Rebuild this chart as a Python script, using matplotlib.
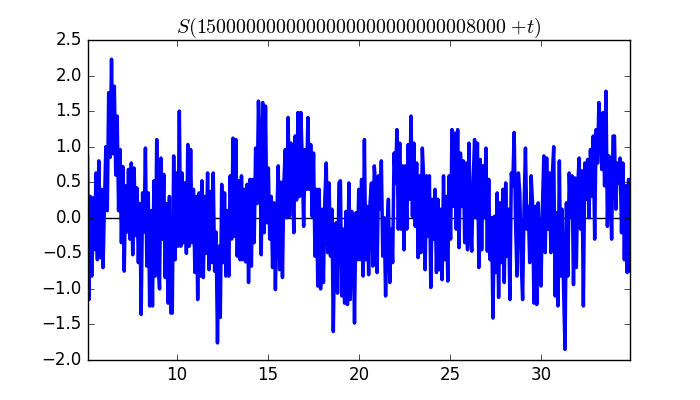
import numpy as np
import matplotlib
matplotlib.use("Agg")
import matplotlib.pyplot as plt

plt.style.use("classic")

t_start = 5.08
t_end = 34.87

seg1 = [0.87, -1.15, 0.30, -0.82, 0.28, -0.45, 0.63, -0.59, 0.80, -0.56, 0.40, -0.70, 0.20, 1.00, 0.10,
        1.76, 0.85, 2.23, 0.90, 1.85, 0.60, 1.43, 0.10, 0.96, -0.35, 0.72, -0.75, 0.45, -0.20, 0.68,
        -0.30, 0.77, -0.52, 0.70, -0.25, 0.42, -0.63, 0.20, -1.36, 0.35, -0.20, 0.98, -0.68, 0.35, -1.24,
        0.10, -1.24, 0.52, -0.82, 1.10, -0.63, -1.00, 0.84, -0.30, 0.61, -0.84, 0.20, -1.20, 0.30, -1.34]
seg2 = [-1.34, 0.87, -0.59, 0.63, -0.40, 1.50, -0.40, 0.63, -0.35, 0.49, -0.50, 1.03, -0.40, 0.96, -0.35,
        0.40, -0.77, 0.30, -1.15, 0.35, -0.82, 0.52, -0.84, 0.30, -0.50, 0.63, -0.73, 0.37, -0.63, 0.63,
        -0.75, -0.20, -1.76, -0.40, -1.40, 0.47, -0.63, 0.35, -0.82, 0.10, -0.82, 0.59, -0.30, 1.12, -0.26,
        1.10, -0.54, 0.52, -0.59, 0.59, -0.59, 0.40, -0.62, 0.47, -0.91, 0.54, -0.68, 0.54, -0.35, 0.98,
        0.20, 1.64]
seg3 = [0.98, -0.52, 1.62, -0.21, 1.57, -0.07, 0.70, -0.30, 0.30, -0.70, 0.21, -1.01, 0.0, 0.73, -0.73,
        0.50, -0.84, 0.49, 0.96, 0.0, 1.41, 0.02, 1.05, 0.87, -0.21, 1.15, 0.25, 1.48, 0.30, 1.48,
        0.82, -0.12, 0.96, 0.40, 1.41, 0.40, 1.03, 0.02, 0.91, -0.54, 0.40, -0.96, 0.40, -1.00, 0.12,
        -0.91, 0.26, 0.77, -0.49, 0.49, -0.54, 0.12, -1.60, -0.16, -0.07, -1.06, 0.49, 0.52, -1.10, -0.16,
        -1.20, 0.09, -1.22, 0.49, -1.15, 0.09, -0.16]
seg4 = [-1.48, 0.07, -0.59, 0.40, -0.59, 0.54, -0.82, 1.10, -0.59, 0.16, -0.80, 0.21, 0.49, -0.68, 0.73,
        0.45, -0.77, 0.59, 0.12, 0.80, -0.54, 0.0, -1.10, -0.16, 0.26, -0.91, -0.16, -0.63, 0.91, 0.49,
        1.24, -0.16, 1.05, -0.16, 0.73, -0.45, 0.73, -0.16, 1.03, 0.26, 1.43, 0.02, 1.05, -0.12, 0.77,
        -0.56, 0.59, -0.49, 0.98, 0.54, -0.73, 0.59, -0.26, 0.59, -0.98, 0.26, -0.30, 0.40, -0.77, 0.26,
        -0.73, 0.12, -0.87, 0.59, -0.59, 0.30]
seg5 = [-0.89, 0.59, -0.30, 1.24, 0.16, 1.19, -0.16, 1.24, -0.42, 0.91, 0.16, 0.80, -0.35, 0.77, -0.45,
        1.05, -0.16, -0.47, 0.54, 1.10, 0.0, 1.05, -0.70, 0.82, -0.45, 0.73, 0.0, 0.98, -0.47, 0.54,
        -0.59, 0.0, -1.41, 0.02, -0.77, 0.35, -1.12, 0.21, -0.63, 0.40, -0.91, 0.49, -0.54, 0.12, -1.15,
        0.63, 0.45, 1.20, -0.07, -0.82, 0.63, 0.35, -0.63, -1.15, 0.12, 0.98, -0.16, 0.16, -0.63, 0.59,
        0.21, -1.20, 0.16]
seg6 = [-1.22, 0.21, -0.35, -0.96, 0.12, 0.87, -0.49, 0.84, -0.16, 0.63, -0.49, 0.59, 1.00, -1.10, 0.07,
        -1.24, 0.80, -0.82, 0.12, -1.01, -1.85, 0.21, -0.82, 0.63, 0.02, 0.59, -0.94, 0.56, -0.70, 0.45,
        0.84, -0.16, 0.66, -1.24, 0.77, 0.26, 0.82, 0.0, 0.96, 0.30, 1.15, -0.30, 1.24, 0.77, 1.62,
        1.24, 0.68, 1.48, 0.45, 1.78, -0.12, 0.87, 0.54, -0.30, 1.15, 1.15, 0.12, 0.77, 0.49, 0.84,
        -0.21, 0.77, -0.59, 0.45, -0.77, 0.54, -0.75]

S_values = seg1 + seg2 + seg3 + seg4 + seg5 + seg6
t_values = np.linspace(t_start, t_end, len(S_values))

title = r"$S(15" + "0" * 25 + r"8000\;{+}t)$"

fig = plt.figure(figsize=(7, 4), dpi=100)
ax = fig.add_subplot(111)
ax.axhline(0, color="k", lw=1, zorder=1)
ax.plot(t_values, S_values, color="b", lw=2.5, zorder=2)
ax.set_xlim(t_start, t_end)
ax.set_ylim(-2.0, 2.5)
ax.set_xticks([10, 15, 20, 25, 30])
ax.set_yticks(np.arange(-2.0, 2.51, 0.5))
ax.set_title(title)
fig.savefig("out.png", dpi=100)
